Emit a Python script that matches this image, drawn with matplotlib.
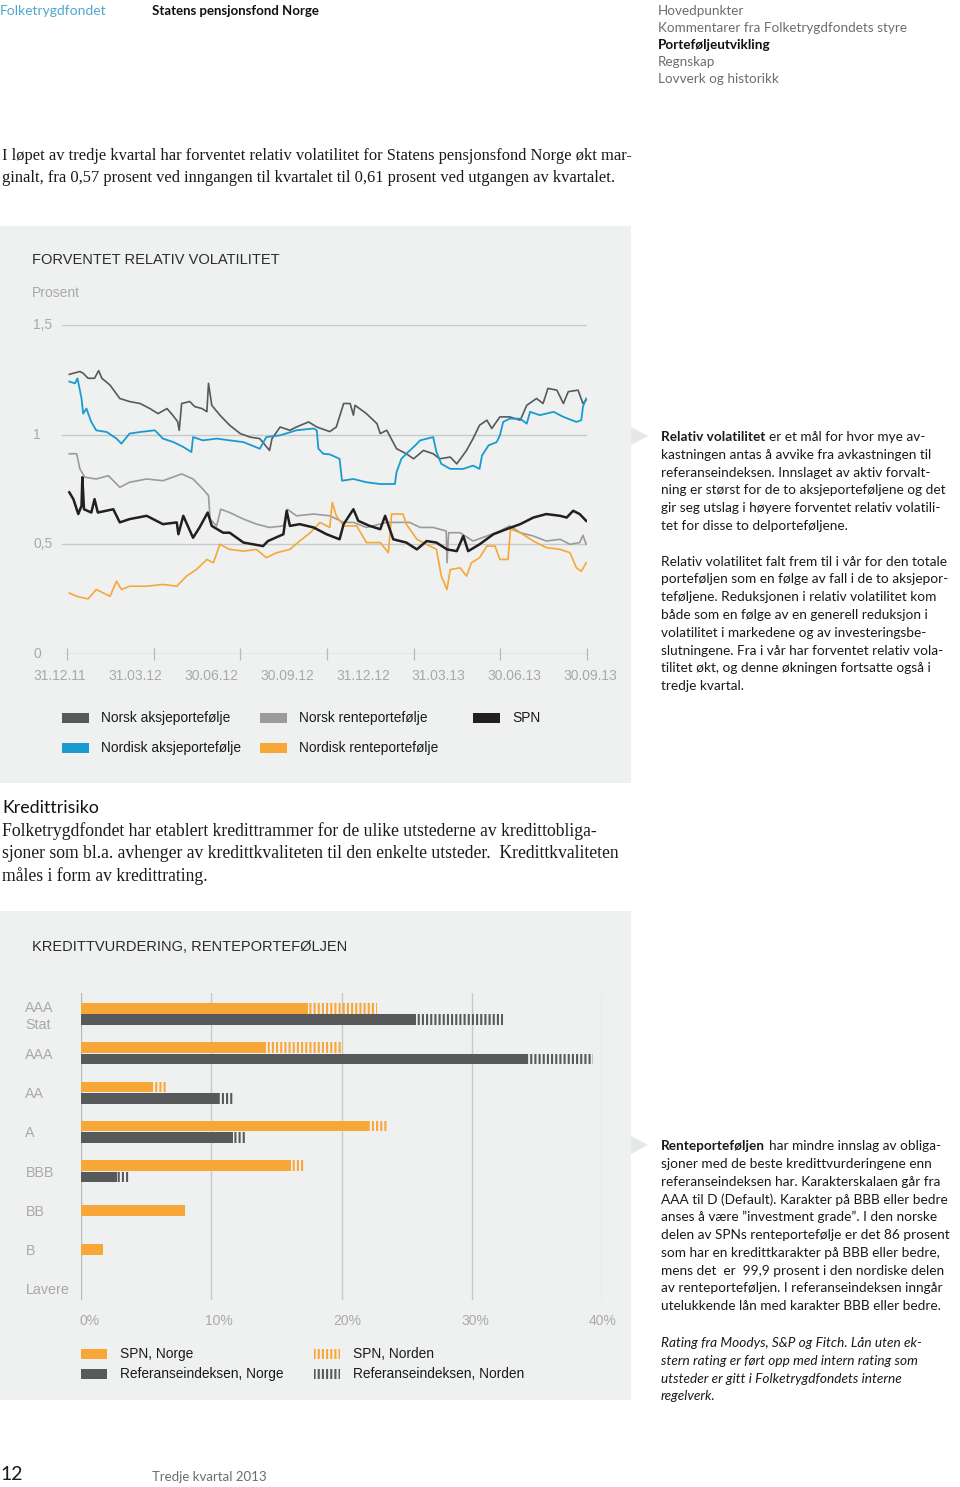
import matplotlib
matplotlib.use("Agg")
import matplotlib.pyplot as plt
from matplotlib.patches import Rectangle, Polygon
import numpy as np

# ---------------- data ----------------
# expected relative volatility, percent; x = days after 31.12.2011
nor_aksje_x = [3, 16, 20, 26, 34, 39, 43, 53, 65, 77, 90, 102, 112, 123, 130, 136, 138, 141, 151, 157,
               166, 172, 174, 178, 188, 200, 213, 225, 237, 249, 252, 262, 274, 282, 297, 307, 323, 331, 340, 348,
               352, 354, 368, 381, 385, 393, 405, 417, 426, 438, 450, 458, 471, 479, 491, 499, 507, 516, 522, 532,
               544, 557, 565, 577, 585, 591, 602, 610, 616, 628, 634, 638]
nor_aksje_y = [1.275, 1.288, 1.28, 1.257, 1.257, 1.292, 1.257, 1.226, 1.165, 1.151, 1.142, 1.119, 1.096, 1.119,
               1.089, 1.06, 1.02, 1.142, 1.151, 1.128, 1.119, 1.105, 1.234, 1.134, 1.089, 1.043, 1.005, 0.989,
               0.982, 0.928, 0.982, 1.035, 1.02, 1.035, 1.058, 1.035, 1.014, 1.035, 1.142, 1.142, 1.089, 1.134,
               1.096, 1.05, 1.005, 1.02, 0.936, 0.913, 0.89, 0.928, 0.913, 0.89, 0.898, 0.867, 0.928, 0.982,
               1.043, 1.066, 1.028, 1.081, 1.081, 1.066, 1.134, 1.165, 1.142, 1.211, 1.203, 1.142, 1.196, 1.203,
               1.142, 1.158]

nordisk_aksje_x = [3, 10, 13, 18, 20, 24, 30, 36, 49, 61, 67, 77, 90, 108, 118, 131, 143, 153, 155, 167,
                   184, 200, 217, 237, 245, 262, 282, 303, 307, 309, 315, 323, 335, 338, 352, 368, 385, 403, 405,
                   411, 417, 428, 434, 450, 454, 460, 471, 487, 499, 507, 510, 518, 528, 532, 536, 544, 557, 565,
                   569, 581, 598, 610, 626, 632, 634, 638]
nordisk_aksje_y = [1.242, 1.234, 1.257, 1.165, 1.096, 1.119, 1.058, 1.02, 1.012, 0.982, 0.959, 1.005, 1.012,
                   1.02, 0.982, 0.966, 0.944, 0.921, 0.989, 0.974, 0.982, 0.974, 0.966, 0.936, 0.989, 0.997,
                   1.02, 1.028, 1.02, 0.936, 0.913, 0.91, 0.89, 0.79, 0.798, 0.783, 0.775, 0.775, 0.829, 0.89,
                   0.913, 0.951, 0.974, 0.989, 0.921, 0.867, 0.844, 0.844, 0.859, 0.844, 0.905, 0.951, 0.966,
                   0.997, 1.058, 1.073, 1.073, 1.05, 1.104, 1.089, 1.104, 1.081, 1.058, 1.066, 1.127, 1.165]

nor_rente_x = [3, 12, 16, 22, 36, 51, 65, 77, 98, 118, 141, 155, 167, 174, 176, 184, 189, 200, 217, 233,
               249, 266, 271, 282, 303, 323, 340, 352, 368, 393, 421, 434, 450, 466, 467, 469, 483, 499, 516,
               532, 544, 557, 573, 589, 606, 618, 630, 634, 638]
nor_rente_y = [0.913, 0.913, 0.844, 0.806, 0.798, 0.813, 0.76, 0.783, 0.798, 0.79, 0.821, 0.798, 0.752,
               0.722, 0.615, 0.584, 0.66, 0.645, 0.615, 0.592, 0.577, 0.584, 0.66, 0.63, 0.638, 0.63, 0.6,
               0.6, 0.577, 0.6, 0.6, 0.577, 0.577, 0.561, 0.416, 0.553, 0.553, 0.515, 0.538, 0.561, 0.584,
               0.553, 0.538, 0.515, 0.523, 0.5, 0.508, 0.541, 0.5]

spn_x = [3, 8, 14, 18, 19, 21, 30, 34, 38, 57, 65, 77, 98, 118, 135, 137, 143, 155, 163, 173,
         178, 192, 200, 217, 241, 247, 266, 270, 274, 286, 303, 319, 335, 340, 352, 358, 372, 385, 391, 401,
         417, 430, 442, 454, 467, 479, 487, 493, 507, 524, 540, 557, 573, 589, 606, 614, 622, 630, 638]
spn_y = [0.737, 0.706, 0.638, 0.676, 0.806, 0.66, 0.645, 0.706, 0.645, 0.66, 0.6, 0.615, 0.63, 0.592, 0.6,
         0.546, 0.63, 0.53, 0.577, 0.645, 0.584, 0.553, 0.553, 0.508, 0.492, 0.515, 0.546, 0.653, 0.584,
         0.592, 0.577, 0.546, 0.523, 0.592, 0.66, 0.607, 0.584, 0.569, 0.63, 0.523, 0.508, 0.477, 0.515,
         0.508, 0.477, 0.469, 0.538, 0.469, 0.5, 0.546, 0.569, 0.592, 0.622, 0.638, 0.63, 0.622, 0.653,
         0.638, 0.607]

nordisk_rente_x = [3, 12, 26, 36, 53, 61, 67, 77, 98, 118, 135, 147, 159, 172, 180, 188, 200, 217, 233, 245,
                   258, 274, 286, 299, 311, 323, 326, 331, 340, 356, 368, 385, 395, 399, 413, 417, 430, 442,
                   454, 460, 467, 471, 483, 491, 497, 507, 516, 526, 532, 542, 545, 557, 573, 589, 606, 618,
                   626, 632, 638]
nordisk_rente_y = [0.278, 0.263, 0.251, 0.294, 0.263, 0.332, 0.294, 0.309, 0.309, 0.317, 0.309, 0.355, 0.385,
                   0.431, 0.416, 0.5, 0.477, 0.469, 0.477, 0.439, 0.462, 0.477, 0.515, 0.553, 0.6, 0.577,
                   0.691, 0.63, 0.584, 0.584, 0.508, 0.508, 0.462, 0.638, 0.638, 0.592, 0.523, 0.5, 0.477,
                   0.355, 0.294, 0.385, 0.393, 0.355, 0.416, 0.439, 0.492, 0.492, 0.431, 0.431, 0.569, 0.553,
                   0.515, 0.485, 0.477, 0.462, 0.393, 0.377, 0.416]

period_days = 639
date_labels = ["31.12.11", "31.03.12", "30.06.12", "30.09.12", "31.12.12", "31.03.13", "30.06.13", "30.09.13"]
vol_ticks = [0, 0.5, 1, 1.5]
vol_ticklabels = ["0", "0,5", "1", "1,5"]

# credit rating, percent of fixed income portfolio
ratings = ["AAA\nStat", "AAA", "AA", "A", "BBB", "BB", "B", "Lavere"]
spn_norge = [17.4, 14.2, 5.5, 22.1, 16.1, 8.0, 1.7, 0]
spn_norden = [5.3, 5.9, 1.0, 1.4, 1.1, 0, 0, 0]
ref_norge = [25.7, 34.3, 10.5, 11.7, 2.8, 0, 0, 0]
ref_norden = [6.7, 5.0, 1.2, 1.0, 0.9, 0, 0, 0]
pct_ticks = [0, 10, 20, 30, 40]

# ---------------- style ----------------
W, H = 960, 1487
PANEL = "#eff0f0"
C_NAK = "#58595b"
C_NRE = "#9b9b9b"
C_SPN = "#231f20"
C_DAK = "#1a9bd0"
C_DRE = "#f7a737"
GRID = "#c8c8c8"
LIGHT = "#a9a9a9"
SANS = "Liberation Sans"
BODY = "Lato"
SERIF = "Liberation Serif"
BODY_SIZE = 9.85

plt.rcParams["hatch.linewidth"] = 1.5

fig = plt.figure(figsize=(W / 100, H / 100), dpi=100)
fig.patch.set_facecolor("white")


def fx(x):
    return x / W


def fy(y):
    return 1 - y / H


def rect(x0, y0, x1, y1, **kw):
    fig.add_artist(Rectangle((fx(x0), fy(y1)), fx(x1 - x0), (y1 - y0) / H, transform=fig.transFigure, **kw))


def txt(x, y, s, **kw):
    kw.setdefault("va", "center")
    return fig.text(fx(x), fy(y), s, **kw)


renderer = fig.canvas.get_renderer()


def rich(x, y, bold, rest, size, **kw):
    t = txt(x, y, bold, fontsize=size, family=BODY, weight="bold", color="#1a1a1a", **kw)
    bb = t.get_window_extent(renderer)
    txt(bb.x1 + 4, y, rest, fontsize=size, family=BODY, color="#1a1a1a", **kw)


# ---------------- header ----------------
txt(0, 11, "Folketrygdfondet", fontsize=10, family=BODY, color="#4fa7cf")
txt(152, 11, "Statens pensjonsfond Norge", fontsize=9.5, family=BODY, weight="bold", color="#111111")
nav = ["Hovedpunkter", "Kommentarer fra Folketrygdfondets styre", "Porteføljeutvikling", "Regnskap",
       "Lovverk og historikk"]
for i, s in enumerate(nav):
    bold = s == "Porteføljeutvikling"
    txt(658, 11 + i * 17, s, fontsize=9.7, family=BODY,
        weight="bold" if bold else "normal", color="#111111" if bold else "#6d6d6d")

txt(2, 156, "I løpet av tredje kvartal har forventet relativ volatilitet for Statens pensjonsfond Norge økt mar-",
    fontsize=11.85, family=SERIF, color="#1a1a1a")
txt(2, 178, "ginalt, fra 0,57 prosent ved inngangen til kvartalet til 0,61 prosent ved utgangen av kvartalet.",
    fontsize=11.85, family=SERIF, color="#1a1a1a")

# ---------------- panel 1: volatility ----------------
rect(0, 226, 631, 783, facecolor=PANEL, edgecolor="none", zorder=0)
fig.add_artist(Polygon([(fx(631), fy(427)), (fx(648), fy(436)), (fx(631), fy(445))],
                       closed=True, transform=fig.transFigure, facecolor="#e6e7e7", edgecolor="none"))
txt(32, 260, "FORVENTET RELATIV VOLATILITET", fontsize=10.5, family=SANS, color="#2b2b2b")
txt(32, 293, "Prosent", fontsize=10, family=SANS, color=LIGHT)

ax = fig.add_axes([fx(62), fy(654), fx(587 - 62), (654 - 325) / H])
ax.set_facecolor("none")
ax.set_xlim(-6, period_days)
ax.set_ylim(0, 1.5)
for sp in ax.spines.values():
    sp.set_visible(False)
for v in vol_ticks[1:]:
    ax.axhline(v, color=GRID, lw=1.0, zorder=1)
ax.axhline(0, color="#b8b8b8", lw=1.0, zorder=1)
ax.set_xticks(np.linspace(0, period_days, 7))
ax.set_xticklabels([])
ax.tick_params(axis="x", direction="inout", length=9, width=0.9, color="#b8b8b8")
ax.set_yticks(vol_ticks)
ax.set_yticklabels([])
ax.tick_params(axis="y", length=0)
for v, lab in zip(vol_ticks, vol_ticklabels):
    txt(33, 654 - v * (654 - 325) / 1.5, lab, fontsize=10, family=SANS, color=LIGHT)
for xl, lab in zip(np.linspace(-0.004, 1.006, len(date_labels)), date_labels):
    ax.text(xl, -0.066, lab, transform=ax.transAxes, ha="center", va="center",
            fontsize=10, family=SANS, color=LIGHT)

ax.plot(nor_rente_x, nor_rente_y, color=C_NRE, lw=1.2, zorder=2)
ax.plot(nordisk_rente_x, nordisk_rente_y, color=C_DRE, lw=1.2, zorder=3)
ax.plot(nor_aksje_x, nor_aksje_y, color=C_NAK, lw=1.2, zorder=3)
ax.plot(nordisk_aksje_x, nordisk_aksje_y, color=C_DAK, lw=1.3, zorder=4)
ax.plot(spn_x, spn_y, color=C_SPN, lw=1.8, zorder=5)

leg = [(62, 718, C_NAK, "Norsk aksjeportefølje"), (260, 718, C_NRE, "Norsk renteportefølje"),
       (473, 718, C_SPN, "SPN"), (62, 748, C_DAK, "Nordisk aksjeportefølje"),
       (260, 748, C_DRE, "Nordisk renteportefølje")]
for x0, yc, c, lab in leg:
    rect(x0, yc - 5, x0 + 27, yc + 5, facecolor=c, edgecolor="none")
    txt(x0 + 39, yc, lab, fontsize=9.9, family=SANS, color="#1a1a1a")

para1 = ["kastningen antas å avvike fra avkastningen til",
         "referanseindeksen. Innslaget av aktiv forvalt-",
         "ning er størst for de to aksjeporteføljene og det",
         "gir seg utslag i høyere forventet relativ volatili-",
         "tet for disse to delporteføljene.",
         "",
         "Relativ volatilitet falt frem til i vår for den totale",
         "porteføljen som en følge av fall i de to aksjepor-",
         "teføljene. Reduksjonen i relativ volatilitet kom",
         "både som en følge av en generell reduksjon i",
         "volatilitet i markedene og av investeringsbe-",
         "slutningene. Fra i vår har forventet relativ vola-",
         "tilitet økt, og denne økningen fortsatte også i",
         "tredje kvartal."]
rich(661, 437, "Relativ volatilitet", "er et mål for hvor mye av-", BODY_SIZE)
for i, s in enumerate(para1):
    if s:
        txt(661, 437 + (i + 1) * 17.8, s, fontsize=BODY_SIZE, family=BODY, color="#1a1a1a")

# ---------------- credit text ----------------
txt(2, 808, "Kredittrisiko", fontsize=12.8, family=BODY, color="#111111")
serif2 = ["Folketrygdfondet har etablert kredittrammer for de ulike utstederne av kredittobliga-",
          "sjoner som bl.a. avhenger av kredittkvaliteten til den enkelte utsteder.  Kredittkvaliteten",
          "måles i form av kredittrating."]
for i, s in enumerate(serif2):
    txt(2, 831 + i * 22.5, s, fontsize=12.7, family=SERIF, color="#1a1a1a")

# ---------------- panel 2: credit rating ----------------
rect(0, 911, 631, 1400, facecolor=PANEL, edgecolor="none", zorder=0)
fig.add_artist(Polygon([(fx(631), fy(1136)), (fx(648), fy(1145)), (fx(631), fy(1154))],
                       closed=True, transform=fig.transFigure, facecolor="#e6e7e7", edgecolor="none"))
txt(32, 947, "KREDITTVURDERING, RENTEPORTEFØLJEN", fontsize=10.5, family=SANS, color="#2b2b2b")

bx = fig.add_axes([fx(81), fy(1300), fx(602 - 81), (1300 - 993) / H])
bx.set_facecolor("none")
bx.set_xlim(0, 40)
bx.set_ylim(7.28, -0.534)
for sp in bx.spines.values():
    sp.set_visible(False)
for t in pct_ticks:
    bx.axvline(t, color=GRID if t else "#b8b8b8", lw=1.0, zorder=0)

pos = np.arange(len(ratings))
h = 0.27
for i in pos:
    off = 0.145 if ref_norge[i] > 0 else 0
    if spn_norge[i] > 0:
        bx.barh(i - off, spn_norge[i], height=h, color=C_DRE, lw=0, zorder=2)
    if spn_norden[i] > 0:
        bx.barh(i - off, spn_norden[i], left=spn_norge[i], height=h, facecolor="none",
                edgecolor=C_DRE, hatch="||||", lw=0, zorder=2)
    if ref_norge[i] > 0:
        bx.barh(i + off, ref_norge[i], height=h, color=C_NAK, lw=0, zorder=2)
    if ref_norden[i] > 0:
        bx.barh(i + off, ref_norden[i], left=ref_norge[i], height=h, facecolor="none",
                edgecolor=C_NAK, hatch="||||", lw=0, zorder=2)

bx.set_yticks(pos)
bx.set_yticklabels(ratings, fontsize=10.3, family=SANS, color=LIGHT, linespacing=1.25)
bx.tick_params(axis="y", length=0, pad=40)
for lab in bx.get_yticklabels():
    lab.set_horizontalalignment("left")
bx.set_xticks(pct_ticks)
bx.set_xticklabels([f"{t}%" for t in pct_ticks], fontsize=10, family=SANS, color=LIGHT)
bx.tick_params(axis="x", length=0, pad=10)
for lab, dx in zip(bx.get_xticklabels(), [9, 8, 6, 4, 1]):
    lab.set_transform(lab.get_transform() + matplotlib.transforms.Affine2D().translate(dx, 0))

bleg = [(81, 1354, dict(facecolor=C_DRE), "SPN, Norge"),
        (81, 1374, dict(facecolor=C_NAK), "Referanseindeksen, Norge"),
        (314, 1354, dict(facecolor="none", edgecolor=C_DRE, hatch="||||", lw=0), "SPN, Norden"),
        (314, 1374, dict(facecolor="none", edgecolor=C_NAK, hatch="||||", lw=0), "Referanseindeksen, Norden")]
for x0, yc, st, lab in bleg:
    st.setdefault("edgecolor", "none")
    rect(x0, yc - 5, x0 + 26, yc + 5, **st)
    txt(x0 + 39, yc, lab, fontsize=9.9, family=SANS, color="#1a1a1a")

para2 = ["sjoner med de beste kredittvurderingene enn",
         "referanseindeksen har. Karakterskalaen går fra",
         "AAA til D (Default). Karakter på BBB eller bedre",
         "anses å være ”investment grade”. I den norske",
         "delen av SPNs renteportefølje er det 86 prosent",
         "som har en kredittkarakter på BBB eller bedre,",
         "mens det  er  99,9 prosent i den nordiske delen",
         "av renteporteføljen. I referanseindeksen inngår",
         "utelukkende lån med karakter BBB eller bedre."]
rich(661, 1146, "Renteporteføljen", "har mindre innslag av obliga-", BODY_SIZE)
for i, s in enumerate(para2):
    txt(661, 1146 + (i + 1) * 17.8, s, fontsize=BODY_SIZE, family=BODY, color="#1a1a1a")
note = ["Rating fra Moodys, S&P og Fitch. Lån uten ek-",
        "stern rating er ført opp med intern rating som",
        "utsteder er gitt i Folketrygdfondets interne",
        "regelverk."]
for i, s in enumerate(note):
    txt(661, 1343 + i * 17.8, s, fontsize=BODY_SIZE, family=BODY, style="italic", color="#1a1a1a")

# ---------------- footer ----------------
txt(0, 1474, "12", fontsize=14, family=BODY, color="#1a1a1a")
txt(152, 1477, "Tredje kvartal 2013", fontsize=9.5, family=BODY, color="#6d6d6d")

fig.savefig("out.png", dpi=100, facecolor="white")
